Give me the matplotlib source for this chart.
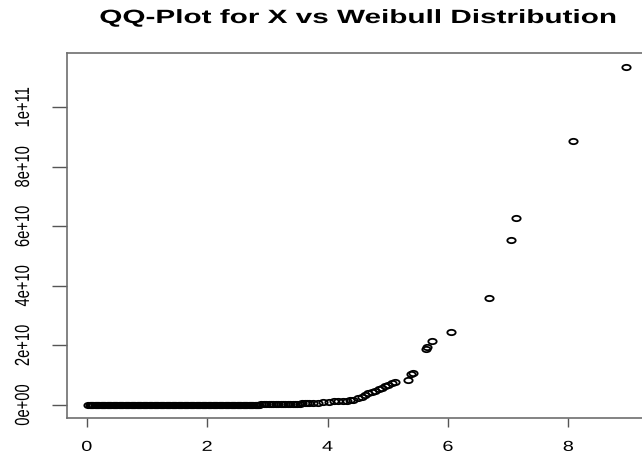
import numpy as np
import matplotlib
matplotlib.use('Agg')
import matplotlib.pyplot as plt
from matplotlib.path import Path
from matplotlib.transforms import Affine2D
from matplotlib.patheffects import AbstractPathEffect

# Data (y in units of 1e10)
TITLE = "QQ-Plot for X vs Weibull Distribution"
Y_UNIT = 1e10

# dense band along zero: the circles overlap into a solid strip, so the
# positions are estimates at a spacing that keeps the strip solid
band_x = [
    0.03, 0.05, 0.07, 0.09, 0.11, 0.13, 0.15, 0.17, 0.19, 0.21,
    0.23, 0.25, 0.27, 0.29, 0.31, 0.33, 0.35, 0.37, 0.39, 0.41,
    0.43, 0.45, 0.47, 0.49, 0.51, 0.53, 0.55, 0.57, 0.59, 0.61,
    0.63, 0.65, 0.67, 0.69, 0.71, 0.73, 0.75, 0.77, 0.79, 0.81,
    0.83, 0.85, 0.87, 0.89, 0.91, 0.93, 0.95, 0.97, 0.99, 1.01,
    1.03, 1.05, 1.07, 1.09, 1.11, 1.13, 1.15, 1.17, 1.19, 1.21,
    1.23, 1.25, 1.27, 1.29, 1.31, 1.33, 1.35, 1.37, 1.39, 1.41,
    1.43, 1.45, 1.47, 1.49, 1.51, 1.53, 1.55, 1.57, 1.59, 1.61,
    1.63, 1.65, 1.67, 1.69, 1.71, 1.73, 1.75, 1.77, 1.79, 1.81,
    1.83, 1.85, 1.87, 1.89, 1.91, 1.93, 1.95, 1.97, 1.99, 2.01,
    2.03, 2.05, 2.07, 2.09, 2.11, 2.13, 2.15, 2.17, 2.19, 2.21,
    2.23, 2.25, 2.27, 2.29, 2.31, 2.33, 2.35, 2.37, 2.39, 2.41,
    2.43, 2.45, 2.47, 2.49, 2.51, 2.53, 2.55, 2.57, 2.59, 2.61,
    2.63, 2.65, 2.67, 2.69, 2.71, 2.73, 2.75, 2.77, 2.79, 2.81,
    2.83, 2.85, 2.87,
]
band_y = [0.0] * len(band_x)

# thinner stretch just above zero
mid_x = [2.90, 2.94, 2.98, 3.02, 3.06, 3.10, 3.14, 3.18, 3.22, 3.26, 3.30,
         3.34, 3.38, 3.42, 3.46, 3.50, 3.54, 3.58, 3.62, 3.66, 3.70]
mid_y = [0.02, 0.02, 0.02, 0.02, 0.02, 0.03, 0.03, 0.03, 0.03, 0.03, 0.03,
         0.03, 0.04, 0.04, 0.04, 0.04, 0.04, 0.05, 0.05, 0.05, 0.05]

# upper tail, single circles
tail_x = [3.76, 3.84, 3.93, 4.02, 4.10, 4.18, 4.25, 4.32, 4.38, 4.43, 4.50,
          4.57, 4.62, 4.68, 4.74, 4.79, 4.85, 4.90, 4.96, 5.01, 5.07, 5.12,
          5.33, 5.39, 5.42, 5.63, 5.66, 5.74, 6.05, 6.68, 7.05, 7.13, 8.07,
          8.96]
tail_y = [0.06, 0.07, 0.08, 0.10, 0.11, 0.13, 0.13, 0.14, 0.15, 0.17, 0.22,
          0.27, 0.32, 0.38, 0.43, 0.47, 0.52, 0.55, 0.62, 0.66, 0.72, 0.75,
          0.82, 1.02, 1.07, 1.86, 1.93, 2.13, 2.46, 3.60, 5.53, 6.28, 8.86,
          11.36]

xticks = [0, 2, 4, 6, 8]
yticks = [0, 2e10, 4e10, 6e10, 8e10, 1e11]
yticklabels = ["0e+00", "2e+10", "4e+10", "6e+10", "8e+10", "1e+11"]

x = np.array(band_x + mid_x + tail_x)
y = np.array(band_y + mid_y + tail_y) * Y_UNIT


class HStretch(AbstractPathEffect):
    """Widen glyphs about their own centre (the reference is stretched sideways)."""

    def __init__(self, sx=1.38):
        super().__init__()
        self.sx = sx

    def draw_path(self, renderer, gc, tpath, affine, rgbFace=None):
        ext = affine.transform_path(tpath).get_extents()
        cx = 0.5 * (ext.x0 + ext.x1)
        t = affine + Affine2D().translate(-cx, 0).scale(self.sx, 1).translate(cx, 0)
        renderer.draw_path(gc, tpath, t, rgbFace)


plt.rcParams['font.family'] = ['Liberation Sans', 'DejaVu Sans']

fig = plt.figure(figsize=(6.42, 4.56), dpi=100)
# the plot box runs past the right edge of the picture, as in the reference
ax = fig.add_axes([0.1039, 0.0822, 0.907, 0.7994])

# R's open circle, squashed like the reference
ring = Path.unit_circle().transformed(Affine2D().scale(1.0, 0.64))
ax.plot(x, y, linestyle='none', marker=ring, markersize=6.0,
        mfc='none', mec='black', mew=1.3)

ax.set_xlim(-0.332, 9.34)
ax.set_ylim(-0.43e10, 11.82e10)

ax.set_xticks(xticks)
ax.set_yticks(yticks)
ax.set_yticklabels(yticklabels, rotation=90, va='center', fontsize=10.6)
for lab in ax.get_xticklabels():
    lab.set_fontsize(10.4)
for lab in ax.get_xticklabels() + ax.get_yticklabels():
    lab.set_path_effects([HStretch()])

ax.tick_params(axis='x', length=6.8, width=1.0, color='#555555', pad=9.3)
ax.tick_params(axis='y', length=10.8, width=1.0, color='#555555', pad=15.6)
for s in ax.spines.values():
    s.set_color('#6e6e6e')
    s.set_linewidth(1.2)

ax.set_title(TITLE, fontsize=13.8, fontweight='bold', pad=21.6,
             path_effects=[HStretch(1.55)])

plt.savefig("out.png", dpi=100)
plt.close()
